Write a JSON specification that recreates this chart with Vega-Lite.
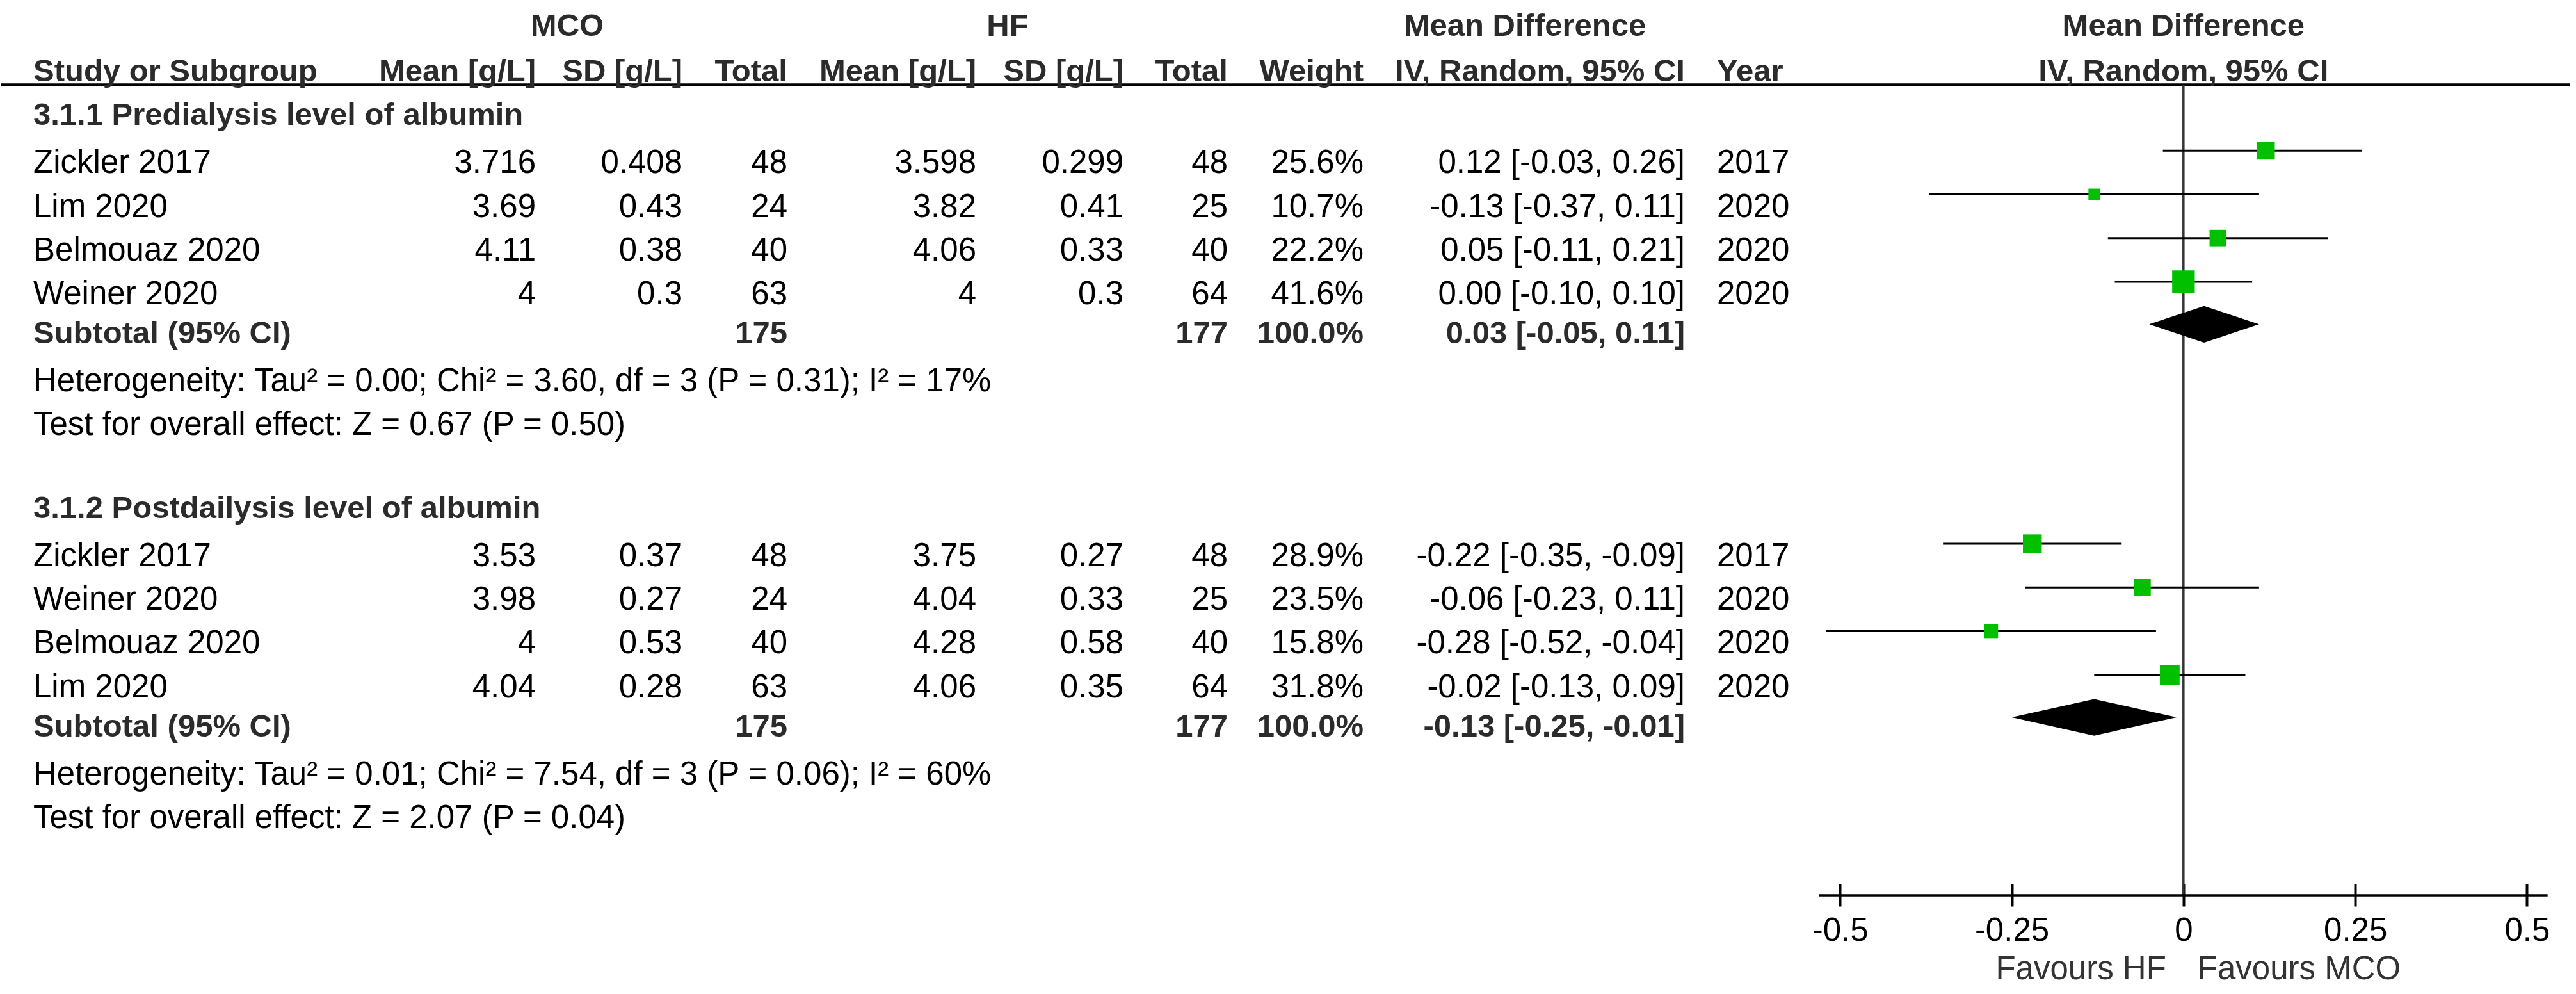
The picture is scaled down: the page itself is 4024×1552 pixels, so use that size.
{
  "$schema": "https://vega.github.io/schema/vega-lite/v6.json",
  "background": "white",
  "padding": 0,
  "bounds": "flush",
  "spacing": 0,
  "config": {
    "view": {"stroke": null},
    "font": "Liberation Sans",
    "mark": {"color": "#000"},
    "text": {"font": "Liberation Sans", "fontSize": 51, "baseline": "middle", "dy": 3, "fill": "#000"}
  },
  "datasets": {
    "rows": [
      {"row": 0.9, "kind": "head", "study": "Study or Subgroup", "mm": "Mean [g/L]", "ms": "SD [g/L]", "mn": "Total", "hm": "Mean [g/L]", "hs": "SD [g/L]", "hn": "Total", "wt": "Weight", "ci": "IV, Random, 95% CI", "year": "Year"},
      {"row": 1.9, "kind": "group", "study": "3.1.1 Predialysis level of albumin"},
      {"row": 3, "kind": "study", "study": "Zickler 2017", "mm": "3.716", "ms": "0.408", "mn": "48", "hm": "3.598", "hs": "0.299", "hn": "48", "wt": "25.6%", "w": 25.6, "md": 0.12, "lo": -0.03, "hi": 0.26, "ci": "0.12 [-0.03, 0.26]", "year": "2017"},
      {"row": 4, "kind": "study", "study": "Lim 2020", "mm": "3.69", "ms": "0.43", "mn": "24", "hm": "3.82", "hs": "0.41", "hn": "25", "wt": "10.7%", "w": 10.7, "md": -0.13, "lo": -0.37, "hi": 0.11, "ci": "-0.13 [-0.37, 0.11]", "year": "2020"},
      {"row": 5, "kind": "study", "study": "Belmouaz 2020", "mm": "4.11", "ms": "0.38", "mn": "40", "hm": "4.06", "hs": "0.33", "hn": "40", "wt": "22.2%", "w": 22.2, "md": 0.05, "lo": -0.11, "hi": 0.21, "ci": "0.05 [-0.11, 0.21]", "year": "2020"},
      {"row": 6, "kind": "study", "study": "Weiner 2020", "mm": "4", "ms": "0.3", "mn": "63", "hm": "4", "hs": "0.3", "hn": "64", "wt": "41.6%", "w": 41.6, "md": 0.0, "lo": -0.10, "hi": 0.10, "ci": "0.00 [-0.10, 0.10]", "year": "2020"},
      {"row": 6.9, "kind": "subtotal", "study": "Subtotal (95% CI)", "mn": "175", "hn": "177", "wt": "100.0%", "md": 0.03, "lo": -0.05, "hi": 0.11, "ci": "0.03 [-0.05, 0.11]"},
      {"row": 8, "kind": "note", "study": "Heterogeneity: Tau² = 0.00; Chi² = 3.60, df = 3 (P = 0.31); I² = 17%"},
      {"row": 9, "kind": "note", "study": "Test for overall effect: Z = 0.67 (P = 0.50)"},
      {"row": 10.9, "kind": "group", "study": "3.1.2 Postdailysis level of albumin"},
      {"row": 12, "kind": "study", "study": "Zickler 2017", "mm": "3.53", "ms": "0.37", "mn": "48", "hm": "3.75", "hs": "0.27", "hn": "48", "wt": "28.9%", "w": 28.9, "md": -0.22, "lo": -0.35, "hi": -0.09, "ci": "-0.22 [-0.35, -0.09]", "year": "2017"},
      {"row": 13, "kind": "study", "study": "Weiner 2020", "mm": "3.98", "ms": "0.27", "mn": "24", "hm": "4.04", "hs": "0.33", "hn": "25", "wt": "23.5%", "w": 23.5, "md": -0.06, "lo": -0.23, "hi": 0.11, "ci": "-0.06 [-0.23, 0.11]", "year": "2020"},
      {"row": 14, "kind": "study", "study": "Belmouaz 2020", "mm": "4", "ms": "0.53", "mn": "40", "hm": "4.28", "hs": "0.58", "hn": "40", "wt": "15.8%", "w": 15.8, "md": -0.28, "lo": -0.52, "hi": -0.04, "ci": "-0.28 [-0.52, -0.04]", "year": "2020"},
      {"row": 15, "kind": "study", "study": "Lim 2020", "mm": "4.04", "ms": "0.28", "mn": "63", "hm": "4.06", "hs": "0.35", "hn": "64", "wt": "31.8%", "w": 31.8, "md": -0.02, "lo": -0.13, "hi": 0.09, "ci": "-0.02 [-0.13, 0.09]", "year": "2020"},
      {"row": 15.9, "kind": "subtotal", "study": "Subtotal (95% CI)", "mn": "175", "hn": "177", "wt": "100.0%", "md": -0.13, "lo": -0.25, "hi": -0.01, "ci": "-0.13 [-0.25, -0.01]"},
      {"row": 17, "kind": "note", "study": "Heterogeneity: Tau² = 0.01; Chi² = 7.54, df = 3 (P = 0.06); I² = 60%"},
      {"row": 18, "kind": "note", "study": "Test for overall effect: Z = 2.07 (P = 0.04)"}
    ]
  },
  "hconcat": [
    {
      "width": 2840,
      "height": 1398,
      "data": {"name": "rows"},
      "layer": [
        {"data": {"values": [{}]}, "mark": {"type": "rule", "strokeWidth": 4, "color": "#000"}, "encoding": {"y": {"datum": 1.24, "type": "quantitative", "scale": {"domain": [-0.7, 19.8], "reverse": true, "nice": false, "zero": false}, "axis": null}}},
        {"data": {"values": [{}]}, "mark": {"type": "text", "text": "MCO", "align": "center", "fontWeight": "bold", "fontSize": 49, "fill": "#2b2b2b"}, "encoding": {"x": {"value": 884}, "y": {"datum": -0.14, "type": "quantitative", "scale": {"domain": [-0.7, 19.8], "reverse": true, "nice": false, "zero": false}, "axis": null}}},
        {"data": {"values": [{}]}, "mark": {"type": "text", "text": "HF", "align": "center", "fontWeight": "bold", "fontSize": 49, "fill": "#2b2b2b"}, "encoding": {"x": {"value": 1572}, "y": {"datum": -0.14, "type": "quantitative", "scale": {"domain": [-0.7, 19.8], "reverse": true, "nice": false, "zero": false}, "axis": null}}},
        {"data": {"values": [{}]}, "mark": {"type": "text", "text": "Mean Difference", "align": "center", "fontWeight": "bold", "fontSize": 49, "fill": "#2b2b2b"}, "encoding": {"x": {"value": 2380}, "y": {"datum": -0.14, "type": "quantitative", "scale": {"domain": [-0.7, 19.8], "reverse": true, "nice": false, "zero": false}, "axis": null}}},

        {"transform": [{"filter": "datum.kind == 'study' || datum.kind == 'note'"}], "mark": {"type": "text", "align": "left"}, "encoding": {"x": {"value": 50}, "y": {"field": "row", "type": "quantitative", "scale": {"domain": [-0.7, 19.8], "reverse": true, "nice": false, "zero": false}, "axis": null}, "text": {"field": "study", "type": "nominal"}}},
        {"transform": [{"filter": "datum.kind == 'head' || datum.kind == 'group' || datum.kind == 'subtotal'"}], "mark": {"type": "text", "align": "left", "fontWeight": "bold", "fontSize": 49, "fill": "#2b2b2b"}, "encoding": {"x": {"value": 50}, "y": {"field": "row", "type": "quantitative", "scale": {"domain": [-0.7, 19.8], "reverse": true, "nice": false, "zero": false}, "axis": null}, "text": {"field": "study", "type": "nominal"}}},

        {"transform": [{"filter": "datum.kind == 'study'"}], "mark": {"type": "text", "align": "right"}, "encoding": {"x": {"value": 835}, "y": {"field": "row", "type": "quantitative", "scale": {"domain": [-0.7, 19.8], "reverse": true, "nice": false, "zero": false}, "axis": null}, "text": {"field": "mm", "type": "nominal"}}},
        {"transform": [{"filter": "(datum.kind == 'head' || datum.kind == 'subtotal') && isValid(datum.mm)"}], "mark": {"type": "text", "align": "right", "fontWeight": "bold", "fontSize": 49, "fill": "#2b2b2b"}, "encoding": {"x": {"value": 835}, "y": {"field": "row", "type": "quantitative", "scale": {"domain": [-0.7, 19.8], "reverse": true, "nice": false, "zero": false}, "axis": null}, "text": {"field": "mm", "type": "nominal"}}},

        {"transform": [{"filter": "datum.kind == 'study'"}], "mark": {"type": "text", "align": "right"}, "encoding": {"x": {"value": 1064}, "y": {"field": "row", "type": "quantitative", "scale": {"domain": [-0.7, 19.8], "reverse": true, "nice": false, "zero": false}, "axis": null}, "text": {"field": "ms", "type": "nominal"}}},
        {"transform": [{"filter": "(datum.kind == 'head' || datum.kind == 'subtotal') && isValid(datum.ms)"}], "mark": {"type": "text", "align": "right", "fontWeight": "bold", "fontSize": 49, "fill": "#2b2b2b"}, "encoding": {"x": {"value": 1064}, "y": {"field": "row", "type": "quantitative", "scale": {"domain": [-0.7, 19.8], "reverse": true, "nice": false, "zero": false}, "axis": null}, "text": {"field": "ms", "type": "nominal"}}},

        {"transform": [{"filter": "datum.kind == 'study'"}], "mark": {"type": "text", "align": "right"}, "encoding": {"x": {"value": 1228}, "y": {"field": "row", "type": "quantitative", "scale": {"domain": [-0.7, 19.8], "reverse": true, "nice": false, "zero": false}, "axis": null}, "text": {"field": "mn", "type": "nominal"}}},
        {"transform": [{"filter": "(datum.kind == 'head' || datum.kind == 'subtotal') && isValid(datum.mn)"}], "mark": {"type": "text", "align": "right", "fontWeight": "bold", "fontSize": 49, "fill": "#2b2b2b"}, "encoding": {"x": {"value": 1228}, "y": {"field": "row", "type": "quantitative", "scale": {"domain": [-0.7, 19.8], "reverse": true, "nice": false, "zero": false}, "axis": null}, "text": {"field": "mn", "type": "nominal"}}},

        {"transform": [{"filter": "datum.kind == 'study'"}], "mark": {"type": "text", "align": "right"}, "encoding": {"x": {"value": 1523}, "y": {"field": "row", "type": "quantitative", "scale": {"domain": [-0.7, 19.8], "reverse": true, "nice": false, "zero": false}, "axis": null}, "text": {"field": "hm", "type": "nominal"}}},
        {"transform": [{"filter": "(datum.kind == 'head' || datum.kind == 'subtotal') && isValid(datum.hm)"}], "mark": {"type": "text", "align": "right", "fontWeight": "bold", "fontSize": 49, "fill": "#2b2b2b"}, "encoding": {"x": {"value": 1523}, "y": {"field": "row", "type": "quantitative", "scale": {"domain": [-0.7, 19.8], "reverse": true, "nice": false, "zero": false}, "axis": null}, "text": {"field": "hm", "type": "nominal"}}},

        {"transform": [{"filter": "datum.kind == 'study'"}], "mark": {"type": "text", "align": "right"}, "encoding": {"x": {"value": 1753}, "y": {"field": "row", "type": "quantitative", "scale": {"domain": [-0.7, 19.8], "reverse": true, "nice": false, "zero": false}, "axis": null}, "text": {"field": "hs", "type": "nominal"}}},
        {"transform": [{"filter": "(datum.kind == 'head' || datum.kind == 'subtotal') && isValid(datum.hs)"}], "mark": {"type": "text", "align": "right", "fontWeight": "bold", "fontSize": 49, "fill": "#2b2b2b"}, "encoding": {"x": {"value": 1753}, "y": {"field": "row", "type": "quantitative", "scale": {"domain": [-0.7, 19.8], "reverse": true, "nice": false, "zero": false}, "axis": null}, "text": {"field": "hs", "type": "nominal"}}},

        {"transform": [{"filter": "datum.kind == 'study'"}], "mark": {"type": "text", "align": "right"}, "encoding": {"x": {"value": 1916}, "y": {"field": "row", "type": "quantitative", "scale": {"domain": [-0.7, 19.8], "reverse": true, "nice": false, "zero": false}, "axis": null}, "text": {"field": "hn", "type": "nominal"}}},
        {"transform": [{"filter": "(datum.kind == 'head' || datum.kind == 'subtotal') && isValid(datum.hn)"}], "mark": {"type": "text", "align": "right", "fontWeight": "bold", "fontSize": 49, "fill": "#2b2b2b"}, "encoding": {"x": {"value": 1916}, "y": {"field": "row", "type": "quantitative", "scale": {"domain": [-0.7, 19.8], "reverse": true, "nice": false, "zero": false}, "axis": null}, "text": {"field": "hn", "type": "nominal"}}},

        {"transform": [{"filter": "datum.kind == 'study'"}], "mark": {"type": "text", "align": "right"}, "encoding": {"x": {"value": 2128}, "y": {"field": "row", "type": "quantitative", "scale": {"domain": [-0.7, 19.8], "reverse": true, "nice": false, "zero": false}, "axis": null}, "text": {"field": "wt", "type": "nominal"}}},
        {"transform": [{"filter": "(datum.kind == 'head' || datum.kind == 'subtotal') && isValid(datum.wt)"}], "mark": {"type": "text", "align": "right", "fontWeight": "bold", "fontSize": 49, "fill": "#2b2b2b"}, "encoding": {"x": {"value": 2128}, "y": {"field": "row", "type": "quantitative", "scale": {"domain": [-0.7, 19.8], "reverse": true, "nice": false, "zero": false}, "axis": null}, "text": {"field": "wt", "type": "nominal"}}},

        {"transform": [{"filter": "datum.kind == 'study'"}], "mark": {"type": "text", "align": "right"}, "encoding": {"x": {"value": 2630}, "y": {"field": "row", "type": "quantitative", "scale": {"domain": [-0.7, 19.8], "reverse": true, "nice": false, "zero": false}, "axis": null}, "text": {"field": "ci", "type": "nominal"}}},
        {"transform": [{"filter": "(datum.kind == 'head' || datum.kind == 'subtotal') && isValid(datum.ci)"}], "mark": {"type": "text", "align": "right", "fontWeight": "bold", "fontSize": 49, "fill": "#2b2b2b"}, "encoding": {"x": {"value": 2630}, "y": {"field": "row", "type": "quantitative", "scale": {"domain": [-0.7, 19.8], "reverse": true, "nice": false, "zero": false}, "axis": null}, "text": {"field": "ci", "type": "nominal"}}},

        {"transform": [{"filter": "datum.kind == 'study'"}], "mark": {"type": "text", "align": "left"}, "encoding": {"x": {"value": 2680}, "y": {"field": "row", "type": "quantitative", "scale": {"domain": [-0.7, 19.8], "reverse": true, "nice": false, "zero": false}, "axis": null}, "text": {"field": "year", "type": "nominal"}}},
        {"transform": [{"filter": "datum.kind == 'head' && isValid(datum.year)"}], "mark": {"type": "text", "align": "left", "fontWeight": "bold", "fontSize": 49, "fill": "#2b2b2b"}, "encoding": {"x": {"value": 2680}, "y": {"field": "row", "type": "quantitative", "scale": {"domain": [-0.7, 19.8], "reverse": true, "nice": false, "zero": false}, "axis": null}, "text": {"field": "year", "type": "nominal"}}}
      ]
    },
    {
      "width": 1172,
      "height": 1398,
      "data": {"name": "rows"},
      "layer": [
        {"data": {"values": [{}]}, "mark": {"type": "rule", "strokeWidth": 4, "color": "#000"}, "encoding": {"y": {"datum": 1.24, "type": "quantitative", "scale": {"domain": [-0.7, 19.8], "reverse": true, "nice": false, "zero": false}, "axis": null}}},
        {"data": {"values": [{}]}, "mark": {"type": "rule", "strokeWidth": 3.5, "color": "#333"}, "encoding": {"x": {"datum": 0, "type": "quantitative"}, "y": {"datum": 1.24, "type": "quantitative", "scale": {"domain": [-0.7, 19.8], "reverse": true, "nice": false, "zero": false}, "axis": null}, "y2": {"datum": 19.8}}},
        {"data": {"values": [{}]}, "mark": {"type": "rule", "strokeWidth": 3.5, "color": "#000"}, "encoding": {"x": {"datum": -0.53, "type": "quantitative"}, "x2": {"datum": 0.53}, "y": {"datum": 19.8, "type": "quantitative", "scale": {"domain": [-0.7, 19.8], "reverse": true, "nice": false, "zero": false}, "axis": null}}},
        {
          "transform": [{"filter": "datum.kind == 'study'"}],
          "mark": {"type": "rule", "strokeWidth": 3, "color": "#000", "yOffset": -17},
          "encoding": {
            "x": {"field": "lo", "type": "quantitative", "scale": {"domain": [-0.53, 0.562], "nice": false, "zero": false},
              "axis": {"orient": "bottom", "offset": -18, "domain": false, "grid": false, "ticks": true, "tickSize": 35, "tickWidth": 4, "tickColor": "#000", "values": [-0.5, -0.25, 0, 0.25, 0.5], "labelExpr": "'' + datum.value", "labelFont": "Liberation Sans", "labelFontSize": 51, "labelColor": "#000", "labelBaseline": "middle", "labelPadding": 38, "labelFlush": false, "labelOverlap": false, "labelBound": false, "title": null}},
            "x2": {"field": "hi"},
            "y": {"field": "row", "type": "quantitative", "scale": {"domain": [-0.7, 19.8], "reverse": true, "nice": false, "zero": false}, "axis": null}
          }
        },
        {
          "transform": [{"filter": "datum.kind == 'study'"}],
          "mark": {"type": "point", "shape": "square", "filled": true, "opacity": 1, "color": "#00c000", "strokeWidth": 0, "yOffset": -17},
          "encoding": {
            "x": {"field": "md", "type": "quantitative"},
            "y": {"field": "row", "type": "quantitative", "scale": {"domain": [-0.7, 19.8], "reverse": true, "nice": false, "zero": false}, "axis": null},
            "size": {"field": "w", "type": "quantitative", "scale": {"type": "linear", "domain": [0, 100], "range": [0, 3000]}, "legend": null}
          }
        },
        {
          "transform": [
            {"filter": "datum.kind == 'subtotal'"},
            {"fold": ["lo", "md", "hi"], "as": ["k", "v"]},
            {"calculate": "datum.k == 'md' ? datum.row - 0.42 : datum.row", "as": "ya"},
            {"calculate": "datum.k == 'md' ? datum.row + 0.42 : datum.row", "as": "yb"}
          ],
          "mark": {"type": "area", "orient": "vertical", "color": "#000", "opacity": 1, "yOffset": -12, "y2Offset": -12},
          "encoding": {
            "x": {"field": "v", "type": "quantitative"},
            "y": {"field": "ya", "type": "quantitative", "stack": null, "scale": {"domain": [-0.7, 19.8], "reverse": true, "nice": false, "zero": false}, "axis": null},
            "y2": {"field": "yb"},
            "detail": {"field": "study", "type": "nominal"},
            "color": {"field": "row", "type": "nominal", "scale": {"range": ["#000", "#000"]}, "legend": null}
          }
        },
        {"data": {"values": [{}]}, "mark": {"type": "text", "text": "Mean Difference", "align": "center", "fontWeight": "bold", "fontSize": 49, "fill": "#2b2b2b"}, "encoding": {"x": {"datum": 0, "type": "quantitative"}, "y": {"datum": -0.14, "type": "quantitative", "scale": {"domain": [-0.7, 19.8], "reverse": true, "nice": false, "zero": false}, "axis": null}}},
        {"data": {"values": [{}]}, "mark": {"type": "text", "text": "IV, Random, 95% CI", "align": "center", "fontWeight": "bold", "fontSize": 49, "fill": "#2b2b2b"}, "encoding": {"x": {"datum": 0, "type": "quantitative"}, "y": {"datum": 0.9, "type": "quantitative", "scale": {"domain": [-0.7, 19.8], "reverse": true, "nice": false, "zero": false}, "axis": null}}},
        {"data": {"values": [{}]}, "mark": {"type": "text", "text": "Favours HF", "align": "right", "dx": -27, "fill": "#333"}, "encoding": {"x": {"datum": 0, "type": "quantitative"}, "y": {"datum": 21.46, "type": "quantitative", "scale": {"domain": [-0.7, 19.8], "reverse": true, "nice": false, "zero": false}, "axis": null}}},
        {"data": {"values": [{}]}, "mark": {"type": "text", "text": "Favours MCO", "align": "left", "dx": 22, "fill": "#333"}, "encoding": {"x": {"datum": 0, "type": "quantitative"}, "y": {"datum": 21.46, "type": "quantitative", "scale": {"domain": [-0.7, 19.8], "reverse": true, "nice": false, "zero": false}, "axis": null}}}
      ]
    }
  ]
}
